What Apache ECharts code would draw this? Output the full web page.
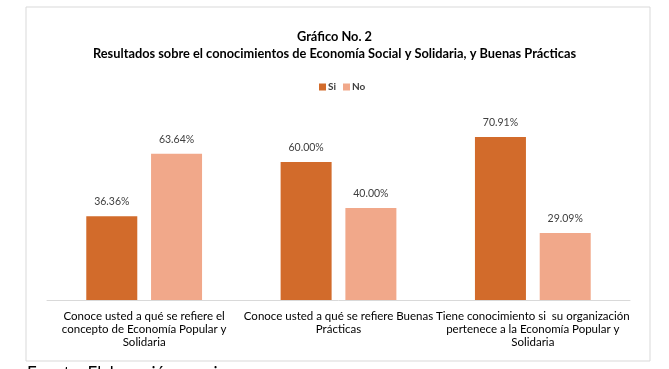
<!DOCTYPE html>
<html>
<head>
<meta charset="utf-8">
<script src="https://cdn.jsdelivr.net/npm/echarts@6/dist/echarts.min.js"></script>
<style>
	html, body { margin: 0; padding: 0; background: #fff; }
	#chart { width: 669px; height: 369px; }
</style>
</head>
<body>
<div id="chart"></div>
<script>
var categories = [
	'Conoce usted a qué se refiere el\nconcepto de Economía Popular y\nSolidaria',
	'Conoce usted a qué se refiere Buenas\nPrácticas',
	'Tiene conocimiento si  su organización\npertenece a la Economía Popular y\nSolidaria',
]
var siData = [36.36, 60.0, 70.91]
var noData = [63.64, 40.0, 29.09]

var font = "Lato, 'Open Sans', sans-serif"

function drawChart() {
	var chartDom = document.getElementById('chart')
	var myChart = echarts.init(chartDom)
	var option

	option = {
		animation: false,
		textStyle: { fontFamily: font },
		title: {
			text: 'Gráfico No. 2\nResultados sobre el conocimientos de Economía Social y Solidaria, y Buenas Prácticas',
			left: 'center',
			top: 23,
			textStyle: {
				fontFamily: font,
				fontSize: 12.8,
				fontWeight: 'bold',
				color: '#000',
				lineHeight: 17,
			},
		},
		legend: {
			data: ['Si', 'No'],
			top: 77,
			left: 314,
			itemWidth: 7,
			itemHeight: 7,
			itemGap: 7,
			icon: 'rect',
			textStyle: {
				fontFamily: font,
				fontSize: 10,
				fontWeight: 'bold',
				color: '#404040',
				padding: [0, 0, 0, -3],
			},
		},
		grid: {
			left: 47,
			right: 39,
			top: 116,
			bottom: 69,
		},
		xAxis: {
			type: 'category',
			data: categories,
			axisLine: { lineStyle: { color: '#d9d9d9' } },
			axisTick: { show: false },
			axisLabel: {
				interval: 0,
				margin: 10,
				fontFamily: font,
				fontSize: 11.5,
				lineHeight: 13,
				color: '#000',
			},
		},
		yAxis: {
			type: 'value',
			min: 0,
			max: 80,
			show: false,
		},
		series: [
			{
				name: 'Si',
				type: 'bar',
				data: siData,
				barWidth: 51,
				barGap: '27%',
				itemStyle: { color: '#d26b2b' },
				label: {
					show: true,
					position: 'top',
					distance: 9,
					fontFamily: font,
					fontSize: 10.5,
					color: '#404040',
					formatter: function (p) { return p.value.toFixed(2) + '%' },
				},
			},
			{
				name: 'No',
				type: 'bar',
				data: noData,
				barWidth: 51,
				itemStyle: { color: '#f1a88a' },
				label: {
					show: true,
					position: 'top',
					distance: 9,
					fontFamily: font,
					fontSize: 10.5,
					color: '#404040',
					formatter: function (p) { return p.value.toFixed(2) + '%' },
				},
			},
		],
		graphic: [
			{
				type: 'rect',
				shape: { x: 26, y: 7, width: 624, height: 354 },
				style: { fill: 'none', stroke: '#d9d9d9', lineWidth: 1 },
				z: -1,
			},
			{
				type: 'text',
				left: 27,
				top: 365,
				style: {
					text: 'Fuente: Elaboración propia',
					font: '17px ' + font,
					fill: '#000',
				},
			},
		],
	}

	option && myChart.setOption(option)
}

drawChart()
</script>
</body>
</html>
